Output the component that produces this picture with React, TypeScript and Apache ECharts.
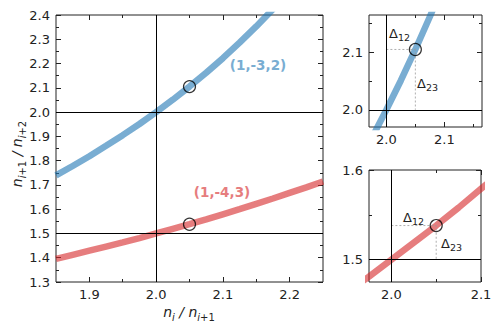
import React, { useEffect, useRef } from "react";
import * as echarts from "echarts";

// ---- data ----
const xs = [1.85, 1.875, 1.9, 1.925, 1.95, 1.975, 2.0, 2.025, 2.05, 2.075, 2.1, 2.125, 2.15, 2.175, 2.2, 2.225, 2.25];
const blueY = [1.739, 1.778, 1.818, 1.861, 1.905, 1.951, 2.0, 2.051, 2.105, 2.162, 2.222, 2.286, 2.353, 2.424, 2.5, 2.581, 2.667];
const redY = [1.395, 1.412, 1.429, 1.446, 1.463, 1.481, 1.5, 1.519, 1.538, 1.558, 1.579, 1.6, 1.622, 1.644, 1.667, 1.69, 1.714];
const markerX = 2.05;
const markerBlueY = 2.105;
const markerRedY = 1.538;
const refX = 2.0;
const refBlueY = 2.0;
const refRedY = 1.5;
const blueLabel = "(1,-3,2)";
const redLabel = "(1,-4,3)";

const mainXMajor = [1.9, 2.0, 2.1, 2.2];
const mainXMinor = [1.95, 2.05, 2.15];
const mainYMajor = [1.3, 1.4, 1.5, 1.6, 1.7, 1.8, 1.9, 2.0, 2.1, 2.2, 2.3, 2.4];
const mainYMinor = [1.35, 1.45, 1.55, 1.65, 1.75, 1.85, 1.95, 2.05, 2.15, 2.25, 2.35];
const topMajor = [2.0, 2.1];
const topMinor = [2.05, 2.15];
const botXMajor = [2.0, 2.1];
const botXMinor = [2.05];
const botYMajor = [1.5, 1.6];
const botYMinor = [1.55];

const FONT = "DejaVu Sans";
const INK = "#222";
const BLUE = "rgba(31,119,180,0.6)";
const RED = "rgba(214,39,40,0.6)";
const BLUE_T = "#79add2";
const RED_T = "#e67d7e";

function axisSet(grid: number, min: number, max: number, major: number[], minor: number[], sides: [string, string]) {
  const base = (pos: string, ticks: number[], len: number, labels: boolean) => ({
    type: "value",
    gridIndex: grid,
    position: pos,
    min,
    max,
    scale: true,
    axisLine: { show: false, onZero: false },
    splitLine: { show: false },
    axisTick: { show: true, inside: true, length: len, customValues: ticks, lineStyle: { color: INK, width: 1 } },
    axisLabel: labels
      ? { show: true, customValues: major, formatter: (v: number) => v.toFixed(1), margin: 6, color: INK, fontSize: 13, fontFamily: FONT }
      : { show: false },
  });
  return [
    base(sides[0], major, 5, true),
    base(sides[0], minor, 3, false),
    base(sides[1], major, 5, false),
    base(sides[1], minor, 3, false),
  ];
}

function refLines(data: any[]) {
  return {
    symbol: "none",
    silent: true,
    animation: false,
    label: { show: false },
    lineStyle: { color: "#000", width: 1, type: "solid" },
    data,
  };
}

const nameRich = {
  n: { fontSize: 14, fontStyle: "italic", fontFamily: FONT, fill: INK, verticalAlign: "middle", lineHeight: 20 },
  t: { fontSize: 14, fontStyle: "italic", fontFamily: FONT, fill: INK, verticalAlign: "middle", lineHeight: 20 },
  si: { fontSize: 10, fontStyle: "italic", fontFamily: FONT, fill: INK, verticalAlign: "bottom", lineHeight: 13 },
  su: { fontSize: 10, fontFamily: FONT, fill: INK, verticalAlign: "bottom", lineHeight: 13 },
};

export default function App() {
  const ref = useRef<HTMLDivElement>(null);
  useEffect(() => {
    const chart = echarts.init(ref.current!, null, { renderer: "svg" });
    const curve = (data: number[], ys: number[], g: number, color: string, mark: any) => ({
      type: "line",
      xAxisIndex: 4 * g,
      yAxisIndex: 4 * g,
      data: data.map((x, k) => [x, ys[k]]),
      showSymbol: false,
      symbol: "none",
      clip: true,
      lineStyle: { color, width: 6.5, cap: "butt" },
      z: 2,
      markLine: mark,
    });
    const marker = (y: number, g: number) => ({
      type: "scatter",
      xAxisIndex: 4 * g,
      yAxisIndex: 4 * g,
      data: [[markerX, y]],
      symbol: "circle",
      symbolSize: 12,
      itemStyle: { color: "rgba(0,0,0,0)", borderColor: "#000", borderWidth: 1.2 },
      z: 5,
    });
    const guide = (y: number, refY: number, g: number) => ({
      type: "line",
      xAxisIndex: 4 * g,
      yAxisIndex: 4 * g,
      data: [[refX, y], [markerX, y], [markerX, refY]],
      symbol: "none",
      lineStyle: { color: "#999", width: 0.8, type: [2, 2] },
      z: 3,
    });
    const deltaRich = {
      d: { fontSize: 13, fontFamily: FONT, fill: INK, verticalAlign: "middle", lineHeight: 18 },
      s: { fontSize: 9.5, fontFamily: FONT, fill: INK, verticalAlign: "bottom", lineHeight: 12 },
    };
    const delta = (sub: string, x: number, y: number, align: string) => ({
      type: "text",
      x,
      y,
      style: { text: `{d|Δ}{s|${sub}}`, rich: deltaRich, align, verticalAlign: "middle" },
      z: 10,
    });
    chart.setOption({
      animation: false,
      grid: [
        { left: 56, top: 15, width: 267, height: 267, show: true, borderColor: INK, borderWidth: 1, outerBoundsMode: "none" },
        { left: 369, top: 15, width: 113, height: 112, show: true, borderColor: INK, borderWidth: 1, outerBoundsMode: "none" },
        { left: 369, top: 170, width: 112, height: 112, show: true, borderColor: INK, borderWidth: 1, outerBoundsMode: "none" },
      ],
      xAxis: [
        ...axisSet(0, 1.85, 2.25, mainXMajor, mainXMinor, ["bottom", "top"]),
        ...axisSet(1, 1.97, 2.165, topMajor, topMinor, ["bottom", "top"]),
        ...axisSet(2, 1.975, 2.1, botXMajor, botXMinor, ["bottom", "top"]),
      ],
      yAxis: [
        ...axisSet(0, 1.3, 2.4, mainYMajor, mainYMinor, ["left", "right"]),
        ...axisSet(1, 1.97, 2.165, topMajor, topMinor, ["left", "right"]),
        ...axisSet(2, 1.475, 1.6, botYMajor, botYMinor, ["left", "right"]),
      ],
      series: [
        curve(xs, blueY, 0, BLUE, refLines([{ xAxis: refX }, { yAxis: refBlueY }, { yAxis: refRedY }])),
        curve(xs, redY, 0, RED, undefined),
        marker(markerBlueY, 0),
        marker(markerRedY, 0),
        curve(xs, blueY, 1, BLUE, refLines([{ xAxis: refX }, { yAxis: refBlueY }])),
        guide(markerBlueY, refBlueY, 1),
        marker(markerBlueY, 1),
        curve(xs, redY, 2, RED, refLines([{ xAxis: refX }, { yAxis: refRedY }])),
        guide(markerRedY, refRedY, 2),
        marker(markerRedY, 2),
      ],
      graphic: [
        { type: "text", x: 258, y: 65, style: { text: blueLabel, fill: BLUE_T, font: `bold 13.5px "${FONT}"`, align: "center", verticalAlign: "middle" }, z: 10 },
        { type: "text", x: 222, y: 192, style: { text: redLabel, fill: RED_T, font: `bold 13.5px "${FONT}"`, align: "center", verticalAlign: "middle" }, z: 10 },
        delta("12", 399.5, 33, "center"),
        delta("23", 417, 83, "left"),
        delta("12", 413.5, 217, "center"),
        delta("23", 441, 243, "left"),
        {
          type: "text",
          x: 189,
          y: 312,
          style: { text: "{n|n}{si|i}{t| / }{n|n}{si|i}{su|+1}", rich: nameRich, align: "center", verticalAlign: "middle" },
          z: 10,
        },
        {
          type: "text",
          x: 17,
          y: 154,
          rotation: Math.PI / 2,
          style: { text: "{n|n}{si|i}{su|+1}{t| / }{n|n}{si|i}{su|+2}", rich: nameRich, align: "center", verticalAlign: "middle" },
          z: 10,
        },
      ],
    });
    return () => chart.dispose();
  }, []);
  return <div ref={ref} style={{ position: "fixed", left: 0, top: 0, width: 502, height: 330, background: "#fff" }} />;
}
